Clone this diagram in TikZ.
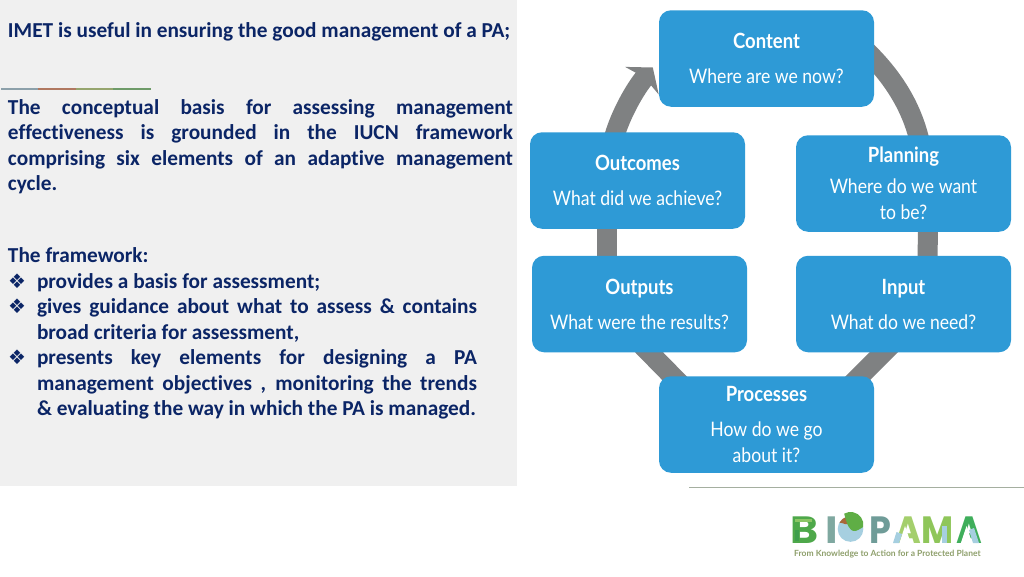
\documentclass[tikz,border=0pt]{standalone}
\usepackage{fontspec}
\setmainfont[Ligatures=NoCommon]{Carlito}
\newfontfamily\boxfont[FakeStretch=0.88]{Lato}
\newfontfamily\logofont[FakeStretch=1.12]{Poppins}
\newfontfamily\logofontn[FakeStretch=0.92]{Poppins}
\newfontfamily\tagfont{Lato}
\newfontfamily\symfont{DejaVu Sans}
\usetikzlibrary{calc,arrows.meta}
\pgfdeclarelayer{bg}
\pgfsetlayers{bg,main}
\definecolor{navy}{HTML}{0B2566}
\definecolor{panel}{HTML}{F0F0F0}
\definecolor{boxblue}{HTML}{2E9AD6}
\definecolor{ringgray}{HTML}{7F8182}
\definecolor{tagc}{HTML}{8E9F6B}
\definecolor{logoblue}{HTML}{A6CFE0}
\definecolor{logolime}{HTML}{8CC665}
\definecolor{logodark}{HTML}{3E9E4C}
\tikzset{
  panelbody/.style={anchor=north west,inner sep=0pt,outer sep=0pt,text=navy,align=justify,font=\bfseries\fontsize{21.3}{25.5}\selectfont},
  headline/.style={panelbody,align=left},
  bulletmark/.style={anchor=center,inner sep=0pt,text=navy,font=\symfont\fontsize{20}{22}\selectfont},
  cyclebox/.style={rectangle,rounded corners=12pt,fill=boxblue,text=white,minimum width=215pt,minimum height=96.5pt,inner sep=0pt,align=center,font=\boxfont\fontsize{20}{26}\selectfont},
  ringline/.style={draw=ringgray,line width=20pt},
}
\newcommand{\ttlb}[1]{{\bfseries\fontsize{21}{26}\selectfont #1}}
\begin{document}
\begin{tikzpicture}[x=1pt,y=-1pt]
\useasboundingbox (0,0) rectangle (1024,576);
\begin{pgfonlayer}{bg}
\fill[white] (0,0) rectangle (1024,576);
\fill[panel] (0,0) rectangle (517,486);
\end{pgfonlayer}
% header rules
\fill[color={rgb,255:red,140;green,160;blue,170}] (1,88) rectangle (38,90);
\fill[color={rgb,255:red,176;green,120;blue,96}] (38,88) rectangle (76,90);
\fill[color={rgb,255:red,150;green,165;blue,110}] (76,88) rectangle (113,90);
\fill[color={rgb,255:red,110;green,155;blue,105}] (113,88) rectangle (151,90);
\fill[color={rgb,255:red,165;green,175;blue,160}] (689,487) rectangle (1024,488);
% left text
\node[headline] (t1) at (8,22.5) {IMET is useful in ensuring the good management of a PA;};
\node[panelbody,text width=505pt] (t2) at (8,99.5) {The conceptual basis for assessing management\linebreak effectiveness is grounded in the IUCN framework\linebreak comprising six elements of an adaptive management\linebreak cycle.};
\node[headline] (t3) at (8,247.5) {The framework:};
\node[headline] (b1) at (37,273.5) {provides a basis for assessment;};
\node[panelbody,text width=440pt] (b2) at (37,299) {gives guidance about what to assess \& contains\linebreak broad criteria for assessment,};
\node[panelbody,text width=440pt] (b3) at (37,350) {presents key elements for designing a PA\linebreak management objectives , monitoring the trends\linebreak \& evaluating the way in which the PA is managed.};
\node[bulletmark] (m1) at (17,281) {❖};
\node[bulletmark] (m2) at (17,306.5) {❖};
\node[bulletmark] (m3) at (17,357) {❖};
% cycle boxes
\node[cyclebox] (content) at (766.5,58.5) {\ttlb{Content}\\[9pt]Where are we now?};
\node[cyclebox] (outcomes) at (637.5,180.5) {\ttlb{Outcomes}\\[9pt]What did we achieve?};
\node[cyclebox] (planning) at (903.5,183.5) {\ttlb{Planning}\\[5pt]Where do we want\\to be?};
\node[cyclebox] (outputs) at (639.5,304) {\ttlb{Outputs}\\[9pt]What were the results?};
\node[cyclebox] (input) at (903.5,304) {\ttlb{Input}\\[9pt]What do we need?};
\node[cyclebox] (processes) at (766.5,424.5) {\ttlb{Processes}\\[9pt]How do we go\\about it?};
\begin{pgfonlayer}{bg}
\draw[ringline] ($(content.east)+(-24,-22)$) .. controls (890,70) and (912,105) .. ($(planning.north)+(17,10)$);
\draw[ringline] ($(planning.south)+(24.5,-5)$) -- ($(input.north)+(24,5)$);
\draw[ringline] ($(input.south)+(-4.5,-15.5)$) -- ($(processes.north)+(76.5,17)$);
\draw[ringline] ($(processes.north)+(-77.5,17)$) -- ($(outputs.south)+(-4.5,-14.5)$);
\draw[ringline] ($(outputs.north)+(-32.5,5)$) -- ($(outcomes.south)+(-30.5,-5)$);
\draw[ringline,-{Stealth[length=17pt,width=43pt,inset=4pt]}] ($(outcomes.north)+(-25,12)$) .. controls (616,125) and (631,94) .. ($(content.west)+(-6,9)$);
\end{pgfonlayer}
% logo
\node[anchor=base west,inner sep=0pt,font=\logofont\bfseries\fontsize{38}{38}\selectfont] (logo) at (790,543) {\color[HTML]{4EA84A}B\kern7pt\color[HTML]{7FA8A0}I\color{white}O\kern-2pt\logofontn\bfseries\color[HTML]{6F9C98}P\kern4pt\color[HTML]{A4CF6C}A\kern1pt\color[HTML]{8FC65A}M\kern3pt\color[HTML]{3FAE5B}A};
\fill[logoblue] (850.5,529) circle (12.8);
\fill[color={rgb,255:red,169;green,104;blue,58}] (839.4,522.6) arc (210:330:12.8) .. controls (855,520) and (850,526) .. (845,524) .. controls (843,523) and (841,523) .. (839.4,522.6) -- cycle;
\fill[color={rgb,255:red,95;green,174;blue,69}] (863.2,527) arc (10:-120:12.8) .. controls (850,538) and (856,531) .. (863.2,527) -- cycle;
% logo colour patches: open A counters and tinted strokes
\fill[white] (905,526) -- (899,544) -- (911,544) -- cycle;
\fill[white] (966.5,526) -- (960.5,544) -- (972.5,544) -- cycle;
\fill[logoblue] (893,543) -- (899,543) -- (902,534) -- (896.5,532) -- cycle;
\fill[logoblue] (979,543) -- (973,543) -- (969,530) -- (974,528) -- cycle;
\fill[logoblue] (942,543) rectangle (947,526);
\fill[logolime] (795,518.5) rectangle (812,522);
\fill[logodark] (795,530) rectangle (799,541);
\node[anchor=base west,inner sep=0pt,text=tagc,font=\tagfont\bfseries\fontsize{8.5}{10}\selectfont] (tag) at (794,556) {From Knowledge to Action for a Protected Planet};
\end{tikzpicture}
\end{document}
